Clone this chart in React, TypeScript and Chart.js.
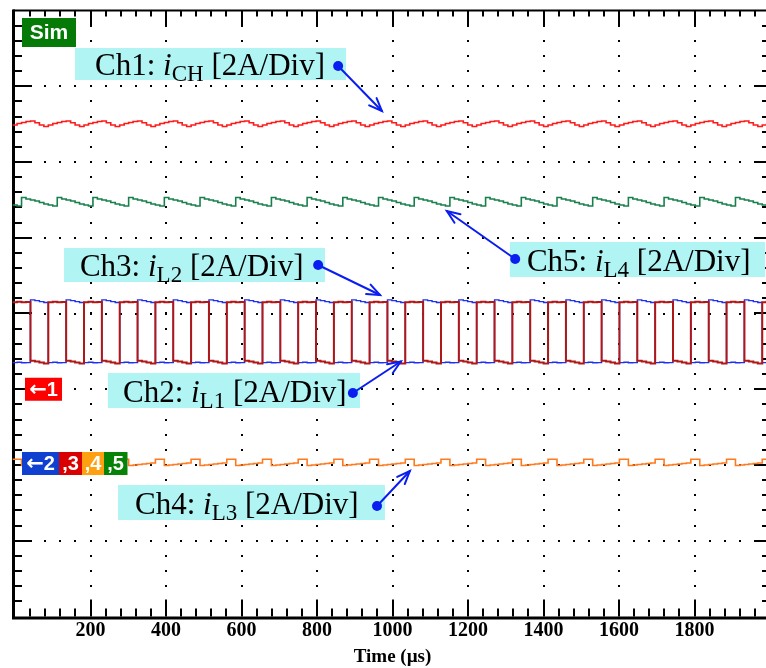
import React, { useEffect, useRef } from 'react';
import { Chart, registerables } from 'chart.js';

Chart.register(...registerables);

// ---- sampled oscilloscope traces (values in divisions, 0 = bottom of screen) ----
const T0_US = -6.3; // time of first sample (µs)
const DT_US = 11.82; // sample interval (µs)

const CH1_ICH = [
  6.488, 6.508, 6.521, 6.535, 6.541, 6.519, 6.488, 6.469,
  6.488, 6.508, 6.521, 6.535, 6.541, 6.519, 6.488, 6.469,
  6.488, 6.508, 6.521, 6.535, 6.541, 6.519, 6.488, 6.469,
  6.488, 6.508, 6.521, 6.535, 6.541, 6.519, 6.488, 6.469,
  6.488, 6.508, 6.521, 6.535, 6.541, 6.519, 6.488, 6.469,
  6.488, 6.508, 6.521, 6.535, 6.541, 6.519, 6.488, 6.469,
  6.488, 6.508, 6.521, 6.535, 6.541, 6.519, 6.488, 6.469,
  6.488, 6.508, 6.521, 6.535, 6.541, 6.519, 6.488, 6.469,
  6.488, 6.508, 6.521, 6.535, 6.541, 6.519, 6.488, 6.469,
  6.488, 6.508, 6.521, 6.535, 6.541, 6.519, 6.488, 6.469,
  6.488, 6.508, 6.521, 6.535, 6.541, 6.519, 6.488, 6.469,
  6.488, 6.508, 6.521, 6.535, 6.541, 6.519, 6.488, 6.469,
  6.488, 6.508, 6.521, 6.535, 6.541, 6.519, 6.488, 6.469,
  6.488, 6.508, 6.521, 6.535, 6.541, 6.519, 6.488, 6.469,
  6.488, 6.508, 6.521, 6.535, 6.541, 6.519, 6.488, 6.469,
  6.488, 6.508, 6.521, 6.535, 6.541, 6.519, 6.488, 6.469,
  6.488, 6.508, 6.521, 6.535, 6.541, 6.519, 6.488, 6.469,
  6.488, 6.508, 6.521, 6.535, 6.541, 6.519, 6.488, 6.469,
  6.488, 6.508, 6.521, 6.535, 6.541, 6.519, 6.488, 6.469,
  6.488, 6.508, 6.521, 6.535, 6.541, 6.519, 6.488, 6.469,
  6.488, 6.508, 6.521, 6.535, 6.541, 6.519, 6.488, 6.469,
  6.488, 6.508, 6.521, 6.535, 6.541, 6.519, 6.488, 6.469,
];

const CH5_IL4 = [
  5.432, 5.419, 5.531, 5.512, 5.498, 5.485, 5.465, 5.446,
  5.432, 5.419, 5.531, 5.512, 5.498, 5.485, 5.465, 5.446,
  5.432, 5.419, 5.531, 5.512, 5.498, 5.485, 5.465, 5.446,
  5.432, 5.419, 5.531, 5.512, 5.498, 5.485, 5.465, 5.446,
  5.432, 5.419, 5.531, 5.512, 5.498, 5.485, 5.465, 5.446,
  5.432, 5.419, 5.531, 5.512, 5.498, 5.485, 5.465, 5.446,
  5.432, 5.419, 5.531, 5.512, 5.498, 5.485, 5.465, 5.446,
  5.432, 5.419, 5.531, 5.512, 5.498, 5.485, 5.465, 5.446,
  5.432, 5.419, 5.531, 5.512, 5.498, 5.485, 5.465, 5.446,
  5.432, 5.419, 5.531, 5.512, 5.498, 5.485, 5.465, 5.446,
  5.432, 5.419, 5.531, 5.512, 5.498, 5.485, 5.465, 5.446,
  5.432, 5.419, 5.531, 5.512, 5.498, 5.485, 5.465, 5.446,
  5.432, 5.419, 5.531, 5.512, 5.498, 5.485, 5.465, 5.446,
  5.432, 5.419, 5.531, 5.512, 5.498, 5.485, 5.465, 5.446,
  5.432, 5.419, 5.531, 5.512, 5.498, 5.485, 5.465, 5.446,
  5.432, 5.419, 5.531, 5.512, 5.498, 5.485, 5.465, 5.446,
  5.432, 5.419, 5.531, 5.512, 5.498, 5.485, 5.465, 5.446,
  5.432, 5.419, 5.531, 5.512, 5.498, 5.485, 5.465, 5.446,
  5.432, 5.419, 5.531, 5.512, 5.498, 5.485, 5.465, 5.446,
  5.432, 5.419, 5.531, 5.512, 5.498, 5.485, 5.465, 5.446,
  5.432, 5.419, 5.531, 5.512, 5.498, 5.485, 5.465, 5.446,
  5.432, 5.419, 5.531, 5.512, 5.498, 5.485, 5.465, 5.446,
];

const CH2_IL1 = [
  4.150, 4.155, 4.150, 4.152, 3.377, 3.366, 3.352, 3.340,
  4.150, 4.155, 4.150, 4.152, 3.377, 3.366, 3.352, 3.340,
  4.150, 4.155, 4.150, 4.152, 3.377, 3.366, 3.352, 3.340,
  4.150, 4.155, 4.150, 4.152, 3.377, 3.366, 3.352, 3.340,
  4.150, 4.155, 4.150, 4.152, 3.377, 3.366, 3.352, 3.340,
  4.150, 4.155, 4.150, 4.152, 3.377, 3.366, 3.352, 3.340,
  4.150, 4.155, 4.150, 4.152, 3.377, 3.366, 3.352, 3.340,
  4.150, 4.155, 4.150, 4.152, 3.377, 3.366, 3.352, 3.340,
  4.150, 4.155, 4.150, 4.152, 3.377, 3.366, 3.352, 3.340,
  4.150, 4.155, 4.150, 4.152, 3.377, 3.366, 3.352, 3.340,
  4.150, 4.155, 4.150, 4.152, 3.377, 3.366, 3.352, 3.340,
  4.150, 4.155, 4.150, 4.152, 3.377, 3.366, 3.352, 3.340,
  4.150, 4.155, 4.150, 4.152, 3.377, 3.366, 3.352, 3.340,
  4.150, 4.155, 4.150, 4.152, 3.377, 3.366, 3.352, 3.340,
  4.150, 4.155, 4.150, 4.152, 3.377, 3.366, 3.352, 3.340,
  4.150, 4.155, 4.150, 4.152, 3.377, 3.366, 3.352, 3.340,
  4.150, 4.155, 4.150, 4.152, 3.377, 3.366, 3.352, 3.340,
  4.150, 4.155, 4.150, 4.152, 3.377, 3.366, 3.352, 3.340,
  4.150, 4.155, 4.150, 4.152, 3.377, 3.366, 3.352, 3.340,
  4.150, 4.155, 4.150, 4.152, 3.377, 3.366, 3.352, 3.340,
  4.150, 4.155, 4.150, 4.152, 3.377, 3.366, 3.352, 3.340,
  4.150, 4.155, 4.150, 4.152, 3.377, 3.366, 3.352, 3.340,
];

const CH3_IL2 = [
  3.352, 3.356, 3.350, 3.352, 4.180, 4.170, 4.157, 4.145,
  3.352, 3.356, 3.350, 3.352, 4.180, 4.170, 4.157, 4.145,
  3.352, 3.356, 3.350, 3.352, 4.180, 4.170, 4.157, 4.145,
  3.352, 3.356, 3.350, 3.352, 4.180, 4.170, 4.157, 4.145,
  3.352, 3.356, 3.350, 3.352, 4.180, 4.170, 4.157, 4.145,
  3.352, 3.356, 3.350, 3.352, 4.180, 4.170, 4.157, 4.145,
  3.352, 3.356, 3.350, 3.352, 4.180, 4.170, 4.157, 4.145,
  3.352, 3.356, 3.350, 3.352, 4.180, 4.170, 4.157, 4.145,
  3.352, 3.356, 3.350, 3.352, 4.180, 4.170, 4.157, 4.145,
  3.352, 3.356, 3.350, 3.352, 4.180, 4.170, 4.157, 4.145,
  3.352, 3.356, 3.350, 3.352, 4.180, 4.170, 4.157, 4.145,
  3.352, 3.356, 3.350, 3.352, 4.180, 4.170, 4.157, 4.145,
  3.352, 3.356, 3.350, 3.352, 4.180, 4.170, 4.157, 4.145,
  3.352, 3.356, 3.350, 3.352, 4.180, 4.170, 4.157, 4.145,
  3.352, 3.356, 3.350, 3.352, 4.180, 4.170, 4.157, 4.145,
  3.352, 3.356, 3.350, 3.352, 4.180, 4.170, 4.157, 4.145,
  3.352, 3.356, 3.350, 3.352, 4.180, 4.170, 4.157, 4.145,
  3.352, 3.356, 3.350, 3.352, 4.180, 4.170, 4.157, 4.145,
  3.352, 3.356, 3.350, 3.352, 4.180, 4.170, 4.157, 4.145,
  3.352, 3.356, 3.350, 3.352, 4.180, 4.170, 4.157, 4.145,
  3.352, 3.356, 3.350, 3.352, 4.180, 4.170, 4.157, 4.145,
  3.352, 3.356, 3.350, 3.352, 4.180, 4.170, 4.157, 4.145,
];

const CH4_IL3 = [
  2.075, 2.075, 1.993, 2.000, 2.007, 2.013, 2.020, 2.026,
  2.075, 2.075, 1.993, 2.000, 2.007, 2.013, 2.020, 2.026,
  2.075, 2.075, 1.993, 2.000, 2.007, 2.013, 2.020, 2.026,
  2.075, 2.075, 1.993, 2.000, 2.007, 2.013, 2.020, 2.026,
  2.075, 2.075, 1.993, 2.000, 2.007, 2.013, 2.020, 2.026,
  2.075, 2.075, 1.993, 2.000, 2.007, 2.013, 2.020, 2.026,
  2.075, 2.075, 1.993, 2.000, 2.007, 2.013, 2.020, 2.026,
  2.075, 2.075, 1.993, 2.000, 2.007, 2.013, 2.020, 2.026,
  2.075, 2.075, 1.993, 2.000, 2.007, 2.013, 2.020, 2.026,
  2.075, 2.075, 1.993, 2.000, 2.007, 2.013, 2.020, 2.026,
  2.075, 2.075, 1.993, 2.000, 2.007, 2.013, 2.020, 2.026,
  2.075, 2.075, 1.993, 2.000, 2.007, 2.013, 2.020, 2.026,
  2.075, 2.075, 1.993, 2.000, 2.007, 2.013, 2.020, 2.026,
  2.075, 2.075, 1.993, 2.000, 2.007, 2.013, 2.020, 2.026,
  2.075, 2.075, 1.993, 2.000, 2.007, 2.013, 2.020, 2.026,
  2.075, 2.075, 1.993, 2.000, 2.007, 2.013, 2.020, 2.026,
  2.075, 2.075, 1.993, 2.000, 2.007, 2.013, 2.020, 2.026,
  2.075, 2.075, 1.993, 2.000, 2.007, 2.013, 2.020, 2.026,
  2.075, 2.075, 1.993, 2.000, 2.007, 2.013, 2.020, 2.026,
  2.075, 2.075, 1.993, 2.000, 2.007, 2.013, 2.020, 2.026,
  2.075, 2.075, 1.993, 2.000, 2.007, 2.013, 2.020, 2.026,
  2.075, 2.075, 1.993, 2.000, 2.007, 2.013, 2.020, 2.026,
];

// ---- axes ----
const X_MIN = 0;
const X_MAX = 2000;
const X_TICKS = [200, 400, 600, 800, 1000, 1200, 1400, 1600, 1800];
const X_MAJOR = 200;
const X_MINOR = 40;
const Y_MIN = 0;
const Y_MAX = 8;
const Y_MAJOR = 1;
const Y_MINOR = 0.2;

// channel reference markers (divisions)
const MARKER_CH1 = 3.0;
const MARKER_CH2_5 = 2.02;

// annotations: box [t0, vTop, t1, vBottom], text baseline [t, v], dot [t, v], arrow tip [t, v]
const ANNOTATIONS = [
  { name: 'Ch1: ', sub: 'CH', box: [159, 7.505, 877, 7.083], text: [212, 7.149], dot: [856, 7.267], tip: [972, 6.673] },
  { name: 'Ch5: ', sub: 'L4', box: [1311, 4.944, 1987, 4.482], text: [1356, 4.561], dot: [1325, 4.719], tip: [1144, 5.353] },
  { name: 'Ch3: ', sub: 'L2', box: [130, 4.865, 821, 4.416], text: [172, 4.495], dot: [803, 4.64], tip: [967, 4.244] },
  { name: 'Ch2: ', sub: 'L1', box: [246, 3.215, 914, 2.752], text: [286, 2.832], dot: [895, 2.951], tip: [1022, 3.366] },
  { name: 'Ch4: ', sub: 'L3', box: [273, 1.736, 980, 1.274], text: [318, 1.353], dot: [959, 1.459], tip: [1046, 1.921] },
];

const SERIF = "'Liberation Serif', 'Times New Roman', Times, serif";
const SANS = "'Liberation Sans', Arial, Helvetica, sans-serif";
const ARROW_FONT = "'DejaVu Sans', 'Liberation Sans', sans-serif";
const ARROW_BLUE = '#0a1ef0';
const CYAN = '#b0f4f4';

function toPoints(values: number[]) {
  return values.map((v, i) => ({ x: T0_US + i * DT_US, y: v }));
}

function drawArrow(ctx: CanvasRenderingContext2D, x0: number, y0: number, x1: number, y1: number) {
  ctx.strokeStyle = ARROW_BLUE;
  ctx.fillStyle = ARROW_BLUE;
  ctx.lineWidth = 2;
  ctx.lineCap = 'round';
  ctx.beginPath();
  ctx.moveTo(x0, y0);
  ctx.lineTo(x1, y1);
  ctx.stroke();
  const a = Math.atan2(y1 - y0, x1 - x0);
  const L = 14;
  const w = 0.38;
  ctx.beginPath();
  ctx.moveTo(x1 - L * Math.cos(a - w), y1 - L * Math.sin(a - w));
  ctx.lineTo(x1, y1);
  ctx.lineTo(x1 - L * Math.cos(a + w), y1 - L * Math.sin(a + w));
  ctx.stroke();
  ctx.beginPath();
  ctx.arc(x0, y0, 5, 0, Math.PI * 2);
  ctx.fill();
}

// marker label such as "←1" or ",3", centred at cx
function drawMarkerText(ctx: CanvasRenderingContext2D, text: string, cx: number, cy: number) {
  const hasArrow = text.startsWith('←');
  const rest = hasArrow ? text.slice(1) : text;
  ctx.font = `bold 21px ${ARROW_FONT}`;
  const aw = hasArrow ? ctx.measureText('←').width : 0;
  ctx.font = `bold 20px ${SANS}`;
  const rw = ctx.measureText(rest).width;
  let x = cx - (aw + rw) / 2;
  ctx.textAlign = 'left';
  ctx.textBaseline = 'middle';
  ctx.fillStyle = '#fff';
  if (hasArrow) {
    ctx.font = `bold 21px ${ARROW_FONT}`;
    ctx.fillText('←', x, cy + 1);
    x += aw;
  }
  ctx.font = `bold 20px ${SANS}`;
  ctx.fillText(rest, x, cy + 1);
}

const scopePlugin = {
  id: 'scopeScreen',
  beforeDatasetsDraw(chart: any) {
    const { ctx, chartArea: ca, scales } = chart;
    const xs = scales.x;
    const ys = scales.y;
    ctx.save();
    // dotted graticule
    ctx.fillStyle = '#000';
    for (let v = Y_MIN + Y_MAJOR; v < Y_MAX - 1e-6; v += Y_MAJOR) {
      const py = Math.round(ys.getPixelForValue(v));
      for (let t = X_MIN + X_MINOR; t < X_MAX - 1e-6; t += X_MINOR) {
        const px = Math.round(xs.getPixelForValue(t));
        ctx.fillRect(px - 1, py - 1, 2, 2);
      }
    }
    for (let t = X_MIN + X_MAJOR; t < X_MAX - 1e-6; t += X_MAJOR) {
      const px = Math.round(xs.getPixelForValue(t));
      for (let v = Y_MIN + Y_MINOR; v < Y_MAX - 1e-6; v += Y_MINOR) {
        const py = Math.round(ys.getPixelForValue(v));
        ctx.fillRect(px - 1, py - 1, 2, 2);
      }
    }
    // ticks
    ctx.strokeStyle = '#000';
    ctx.lineWidth = 2;
    ctx.beginPath();
    let k = 0;
    for (let t = X_MIN + X_MINOR; t < X_MAX - 1e-6; t += X_MINOR) {
      k++;
      const major = k % 5 === 0;
      const px = Math.round(xs.getPixelForValue(t));
      ctx.moveTo(px, ca.top);
      ctx.lineTo(px, ca.top + (major ? 16 : 6));
      ctx.moveTo(px, ca.bottom);
      ctx.lineTo(px, ca.bottom - (major ? 17 : 8));
    }
    k = 0;
    for (let v = Y_MIN + Y_MINOR; v < Y_MAX - 1e-6; v += Y_MINOR) {
      k++;
      const major = k % 5 === 0;
      const py = Math.round(ys.getPixelForValue(v));
      ctx.moveTo(ca.left - 2, py);
      ctx.lineTo(ca.left - 2 + (major ? 19 : 9), py);
      ctx.moveTo(ca.right, py);
      ctx.lineTo(ca.right - (major ? 16 : 8), py);
    }
    ctx.stroke();
    // frame
    ctx.lineWidth = 2;
    ctx.beginPath();
    ctx.moveTo(ca.left - 2, ca.top);
    ctx.lineTo(ca.right, ca.top);
    ctx.lineTo(ca.right, ca.bottom);
    ctx.stroke();
    ctx.lineWidth = 3;
    ctx.beginPath();
    ctx.moveTo(ca.left - 1.5, ca.top - 1);
    ctx.lineTo(ca.left - 1.5, ca.bottom + 1.5);
    ctx.lineTo(ca.right + 1, ca.bottom + 1.5);
    ctx.stroke();
    ctx.restore();
  },
  afterDatasetsDraw(chart: any) {
    const { ctx, chartArea: ca, scales } = chart;
    const xs = scales.x;
    const ys = scales.y;
    ctx.save();
    ctx.textBaseline = 'middle';
    ctx.textAlign = 'center';

    // "Sim" badge
    ctx.fillStyle = '#067a06';
    ctx.fillRect(ca.left + 7, ca.top + 7.5, 54, 29);
    ctx.fillStyle = '#fff';
    ctx.font = `bold 21px ${SANS}`;
    ctx.fillText('Sim', ca.left + 34, ca.top + 22.5);

    // channel reference markers
    const m1 = ys.getPixelForValue(MARKER_CH1);
    ctx.fillStyle = '#ff0000';
    ctx.fillRect(ca.left + 10, m1 - 11.5, 37, 23);
    drawMarkerText(ctx, '←1', ca.left + 28.5, m1);

    const m2 = ys.getPixelForValue(MARKER_CH2_5);
    const segs = [
      { text: '←2', color: '#1040d0', w: 37 },
      { text: ',3', color: '#d80000', w: 23 },
      { text: ',4', color: '#ffa010', w: 22 },
      { text: ',5', color: '#068206', w: 23 },
    ];
    let sx = ca.left + 7;
    for (const s of segs) {
      ctx.fillStyle = s.color;
      ctx.fillRect(sx, m2 - 11.5, s.w + 0.5, 23);
      drawMarkerText(ctx, s.text, sx + s.w / 2, m2);
      sx += s.w;
    }

    // channel annotations
    ctx.textAlign = 'left';
    ctx.textBaseline = 'alphabetic';
    for (const a of ANNOTATIONS) {
      const bx0 = xs.getPixelForValue(a.box[0]);
      const by0 = ys.getPixelForValue(a.box[1]);
      const bx1 = xs.getPixelForValue(a.box[2]);
      const by1 = ys.getPixelForValue(a.box[3]);
      ctx.fillStyle = CYAN;
      ctx.fillRect(bx0, by0, bx1 - bx0, by1 - by0);
      let tx = xs.getPixelForValue(a.text[0]);
      const ty = ys.getPixelForValue(a.text[1]);
      ctx.fillStyle = '#000';
      ctx.font = `31px ${SERIF}`;
      ctx.fillText(a.name, tx, ty);
      tx += ctx.measureText(a.name).width;
      ctx.font = `italic 31px ${SERIF}`;
      ctx.fillText('i', tx, ty);
      tx += ctx.measureText('i').width;
      ctx.font = `23px ${SERIF}`;
      ctx.fillText(a.sub, tx, ty + 6);
      tx += ctx.measureText(a.sub).width;
      ctx.font = `31px ${SERIF}`;
      ctx.fillText(' [2A/Div]', tx, ty);
      drawArrow(
        ctx,
        xs.getPixelForValue(a.dot[0]),
        ys.getPixelForValue(a.dot[1]),
        xs.getPixelForValue(a.tip[0]),
        ys.getPixelForValue(a.tip[1])
      );
    }
    ctx.restore();
  },
};

export default function App() {
  const ref = useRef<HTMLCanvasElement | null>(null);

  useEffect(() => {
    if (!ref.current) return;
    const lineDs = (label: string, values: number[], color: string, width: number) => ({
      label,
      data: toPoints(values),
      borderColor: color,
      backgroundColor: color,
      borderWidth: width,
      pointRadius: 0,
      stepped: true,
      fill: false,
      clip: { left: 3, top: 0, right: 0, bottom: 0 },
    });
    const chart = new Chart(ref.current, {
      type: 'line',
      data: {
        datasets: [
          lineDs('Ch1: iCH', CH1_ICH, '#ff1a1a', 1.6),
          lineDs('Ch5: iL4', CH5_IL4, '#17804a', 1.6),
          lineDs('Ch2: iL1', CH2_IL1, '#b01818', 2),
          lineDs('Ch3: iL2', CH3_IL2, '#1f30f0', 1.4),
          lineDs('Ch4: iL3', CH4_IL3, '#ff7a1e', 1.6),
        ],
      },
      options: {
        responsive: false,
        animation: false,
        devicePixelRatio: 1,
        events: [],
        layout: { padding: { left: 15, right: 2, top: 10.5, bottom: 0 } },
        plugins: { legend: { display: false }, tooltip: { enabled: false } },
        scales: {
          x: {
            type: 'linear',
            min: X_MIN,
            max: X_MAX,
            grid: { display: false, drawTicks: false },
            border: { display: false },
            ticks: {
              color: '#000',
              font: { family: SERIF, size: 20, weight: 'bold' },
              padding: 2,
              autoSkip: false,
              maxRotation: 0,
              callback: (v: any) => String(v),
            },
            afterBuildTicks: (s: any) => {
              s.ticks = X_TICKS.map((v) => ({ value: v }));
            },
            afterFit: (s: any) => {
              s.height = 51.5;
            },
            title: {
              display: true,
              text: 'Time (µs)',
              color: '#000',
              font: { family: SERIF, size: 19, weight: 'bold' },
              padding: { top: 0, bottom: 0 },
            },
          },
          y: { type: 'linear', display: false, min: Y_MIN, max: Y_MAX },
        },
      },
      plugins: [scopePlugin],
    } as any);
    return () => chart.destroy();
  }, []);

  return (
    <div style={{ position: 'absolute', left: 0, top: 0, width: 766, height: 668, overflow: 'hidden', background: '#fff' }}>
      <canvas ref={ref} width={772} height={668} style={{ display: 'block' }} />
    </div>
  );
}
